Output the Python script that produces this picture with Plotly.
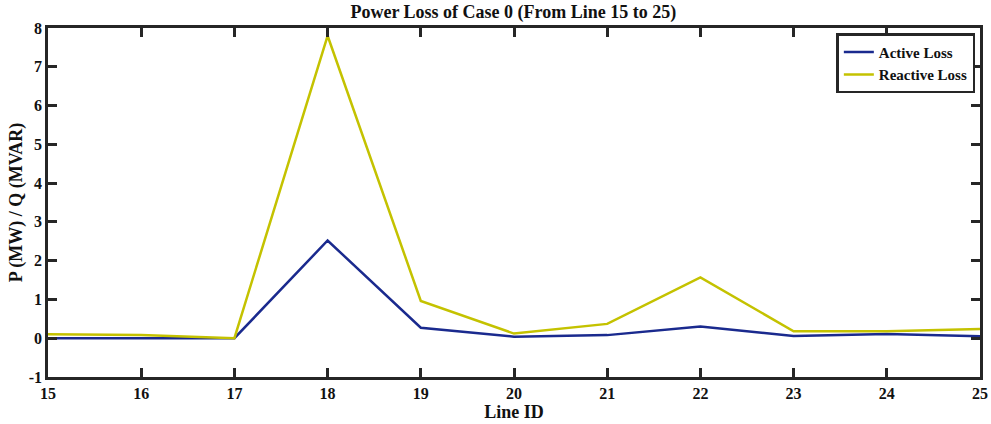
import plotly.graph_objects as go

line_ids = [15, 16, 17, 18, 19, 20, 21, 22, 23, 24, 25]
active_loss = [0.0, 0.0, 0.0, 2.52, 0.27, 0.04, 0.08, 0.30, 0.06, 0.11, 0.05]
reactive_loss = [0.10, 0.08, 0.0, 7.80, 0.96, 0.12, 0.37, 1.57, 0.18, 0.18, 0.24]

font_family = "Liberation Serif, Times New Roman, serif"
axis_color = "#262626"

fig = go.Figure()
fig.add_trace(go.Scatter(x=line_ids, y=active_loss, mode="lines", name="<b>Active Loss</b>",
                         line=dict(color="#1a2a8e", width=2.5)))
fig.add_trace(go.Scatter(x=line_ids, y=reactive_loss, mode="lines", name="<b>Reactive Loss</b>",
                         line=dict(color="#c4c200", width=2.5)))

axis_common = dict(showgrid=False, zeroline=False, showline=True, linecolor=axis_color, linewidth=2.5,
                   mirror="ticks", ticks="inside", ticklen=9, tickwidth=2.5, tickcolor=axis_color,
                   automargin=False,
                   tickfont=dict(family=font_family, size=16, color="#111111"))

fig.update_layout(
    width=991, height=424,
    margin=dict(l=48, r=11, t=28, b=47),
    paper_bgcolor="white", plot_bgcolor="white",
    title=dict(text="<b>Power Loss of Case 0 (From Line 15 to 25)</b>", x=0.518, xanchor="center",
               y=0.972, yanchor="middle", font=dict(family=font_family, size=18, color="#111111")),
    legend=dict(x=0.995, y=0.985, xanchor="right", yanchor="top", bgcolor="white",
                bordercolor=axis_color, borderwidth=2.5, tracegroupgap=0,
                font=dict(family=font_family, size=15, color="#111111"), itemwidth=30),
    xaxis=dict(range=[15, 25], tickvals=line_ids, ticktext=[f"<b>{v}</b>" for v in line_ids],
               title=dict(text="<b>Line ID</b>", standoff=3, font=dict(family=font_family, size=18, color="#111111")),
               **axis_common),
    yaxis=dict(range=[-1, 8], tickvals=list(range(-1, 9)), ticktext=[f"<b>{v}</b>" for v in range(-1, 9)],
               title=dict(text="<b>P (MW) / Q (MVAR)</b>", standoff=2, font=dict(family=font_family, size=18, color="#111111")),
               **axis_common),
)

fig.write_html("out.html")
